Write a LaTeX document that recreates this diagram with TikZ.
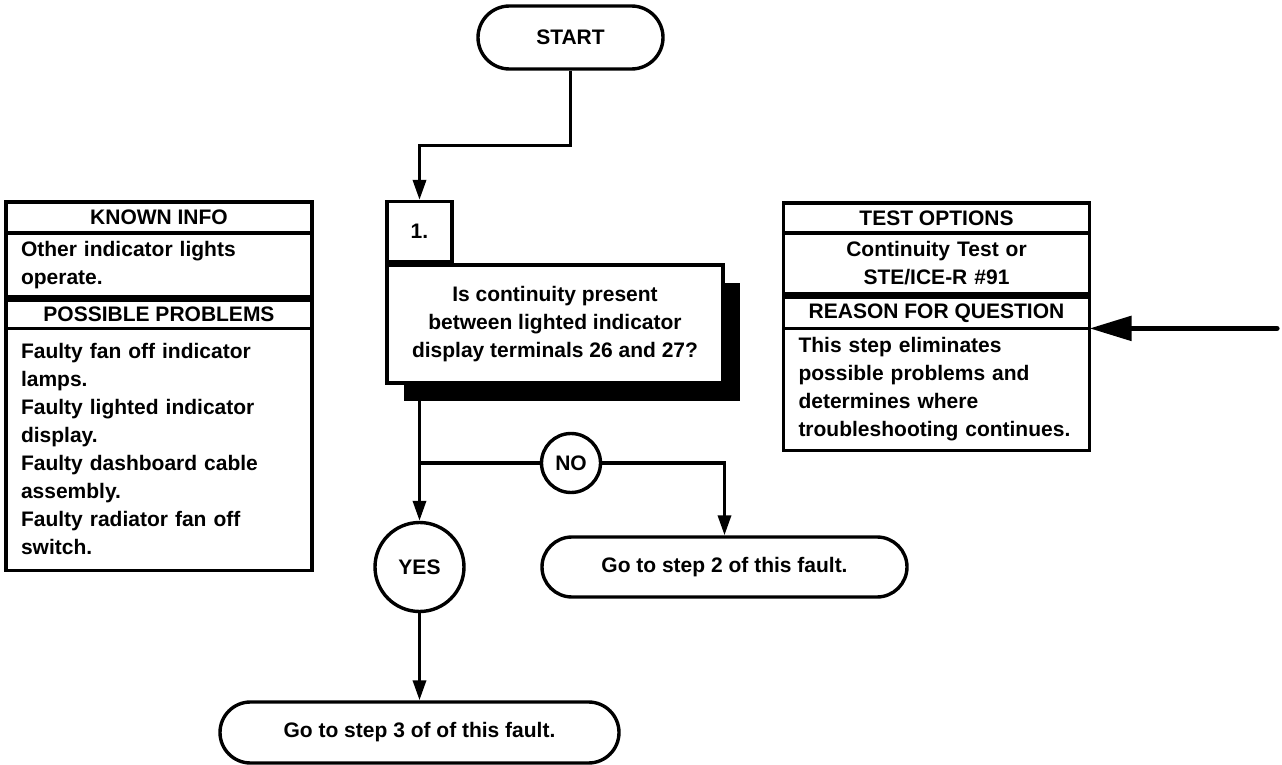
\documentclass[tikz,border=0pt]{standalone}
\usepackage{fontspec}
\setmainfont{Liberation Sans}
\usepackage{tikz}
\usetikzlibrary{positioning,shapes.misc,arrows.meta,shadows}

\begin{document}
\begin{tikzpicture}[
  x=0.5pt, y=-0.5pt, line width=1.7pt,
  txt/.style={font=\fontsize{10.5pt}{14pt}\selectfont\bfseries},
  pill/.style={rounded rectangle, draw, txt, inner sep=0pt},
  hdr/.style={rectangle, draw, txt, minimum width=153pt, inner sep=0pt, outer sep=0pt, align=center},
  body/.style={rectangle, draw, txt, text width=138pt, inner xsep=7.5pt, inner ysep=0pt, outer sep=0pt, align=left},
  ans/.style={circle, draw, txt, inner sep=0pt},
  arr/.style={-{Triangle[length=10pt,width=6.5pt]}},
  bigarr/.style={-{Triangle[length=21pt,width=12pt]}, line width=2.6pt, line cap=round}
]
\useasboundingbox (0,0) rectangle (1282,765);

\node[pill, minimum width=92.5pt, minimum height=31.5pt] (start) at (570.5,37.5) {START};

\node[rectangle, draw, fill=white, txt, align=center, minimum width=168pt, minimum height=59pt, inner sep=0pt,
      drop shadow={shadow xshift=8.5pt, shadow yshift=-9pt, fill=black, opacity=1}] (quest) at (555,324)
      {Is continuity present\\between lighted indicator\\display terminals 26 and 27?};
\node[rectangle, draw, txt, minimum width=32.5pt, minimum height=30pt, inner sep=0pt, anchor=south west] (stepno) at (quest.north west) {1.};

\node[hdr, minimum height=15.5pt] (known) at (159,217.5) {KNOWN INFO};
\node[body, minimum height=32pt, below=0pt of known] (knowntxt) {Other indicator lights\\operate.};
\node[hdr, minimum height=14pt, below=1.7pt of knowntxt] (probs) {POSSIBLE PROBLEMS};
\node[body, minimum height=121pt, below=0pt of probs] (probstxt) {Faulty fan off indicator\\lamps.\\Faulty lighted indicator\\display.\\Faulty dashboard cable\\assembly.\\Faulty radiator fan off\\switch.};

\node[hdr, minimum height=15pt] (opts) at (936.5,218) {TEST OPTIONS};
\node[body, align=center, minimum height=30.5pt, below=0pt of opts] (optstxt) {Continuity Test or\\STE/ICE-R \#91};
\node[hdr, minimum height=15.5pt, below=1.7pt of optstxt] (reason) {REASON FOR QUESTION};
\node[body, minimum height=61pt, below=0pt of reason] (reasontxt) {This step eliminates\\possible problems and\\determines where\\troubleshooting continues.};

\node[ans, minimum size=29.5pt] (no) at (571,463) {NO};
\node[ans, minimum size=44.5pt] (yes) at (419.5,567) {YES};
\node[pill, minimum width=182.5pt, minimum height=30pt] (step2) at (724.5,567) {Go to step 2 of this fault.};
\node[pill, minimum width=199.5pt, minimum height=30.5pt] (step3) at (419.5,732.5) {Go to step 3 of of this fault.};

\coordinate (feed) at (1277,325);

\draw[arr] (start.south) -- ++(0,75) -| (stepno.north);
\draw[arr] (stepno.south |- quest.south) -- (yes.north);
\draw (no.west) -- (no.west -| yes.north);
\draw[arr] (no.east) -| (step2.north);
\draw[arr] (yes.south) -- (step3.north);
\draw[bigarr] (feed |- reasontxt.north east) -- (reasontxt.north east);

\end{tikzpicture}
\end{document}
